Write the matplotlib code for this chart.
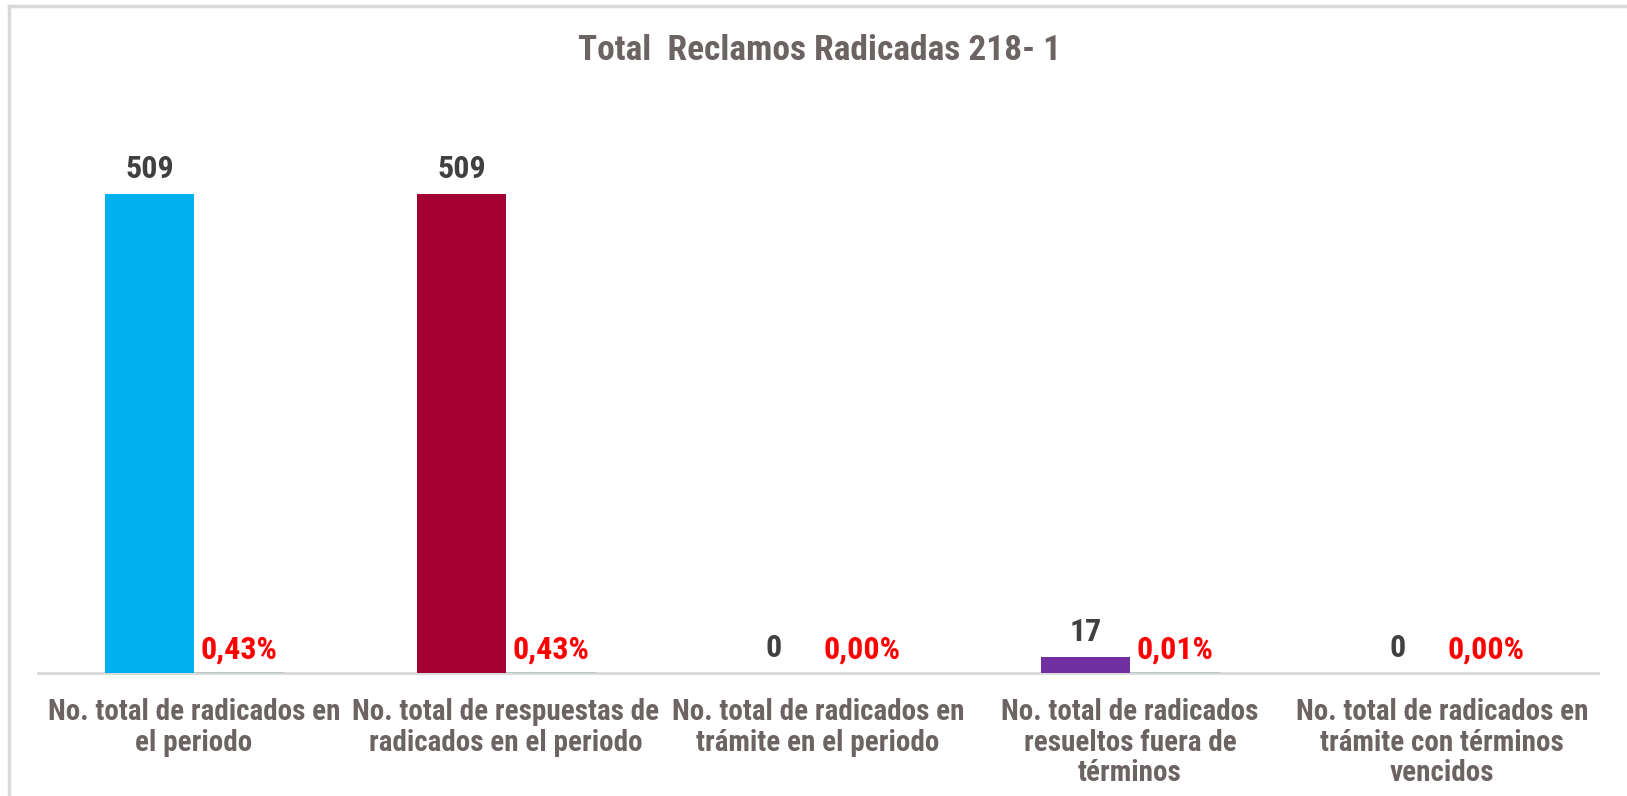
import matplotlib
matplotlib.use("Agg")
import matplotlib.pyplot as plt
import numpy as np
from matplotlib.lines import Line2D

plt.rcParams['font.family'] = ['Roboto Condensed', 'Liberation Sans', 'DejaVu Sans']
plt.rcParams['font.weight'] = 'bold'

## data
categories = ["No. total de radicados en\nel periodo",
              "No. total de respuestas de\nradicados en el periodo",
              "No. total de radicados en\ntrámite en el periodo",
              "No. total de radicados\nresueltos fuera de\ntérminos",
              "No. total de radicados en\ntrámite con términos\nvencidos"]
counts = [509, 509, 0, 17, 0]
percents = [0.43, 0.43, 0.00, 0.01, 0.00]
bar_colors = ["#00b0f0", "#a50034", "#a50034", "#7030a0", "#7030a0"]
pct_color = "#b3c6b7"

W, H = 1627, 796
fig = plt.figure(figsize=(W / 100, H / 100), dpi=100)
ax = fig.add_axes([38 / W, (H - 673) / H, (1598 - 38) / W, 565 / H])

x = np.arange(len(categories))
bw = 0.285
# count bars
ax.bar(x - bw / 2, counts, bw, color=bar_colors, zorder=2)
# percentage bars (same axis, so they sit almost flat on the baseline)
lw = [2 if p > 0 else 0 for p in percents]
ax.bar(x + bw / 2, percents, bw, color=pct_color, edgecolor=pct_color, linewidth=lw, zorder=2)

for xi, c in zip(x, counts):
    ax.annotate(str(c), (xi - bw / 2, c), xytext=(0, 7), textcoords="offset points",
                ha="center", va="bottom", fontsize=23, color="#404040", fontweight="bold")
for xi, p in zip(x, percents):
    ax.annotate(f"{p:.2f}%".replace(".", ","), (xi + bw / 2, p), xytext=(0, 6),
                textcoords="offset points", ha="center", va="bottom",
                fontsize=23, color="#ff0000", fontweight="bold")

ax.set_xlim(-0.5, len(categories) - 0.5)
ax.set_ylim(0, 600)
ax.set_yticks([])
ax.set_xticks(x)
ax.set_xticklabels(categories, fontsize=21, color="#6b6462", linespacing=1.12)
ax.tick_params(axis="x", length=0, pad=18)
for s in ["top", "right", "left"]:
    ax.spines[s].set_visible(False)
ax.spines["bottom"].set_color("#d9d9d9")
ax.spines["bottom"].set_linewidth(2)
ax.spines["bottom"].set_zorder(1)

fig.text(820 / W, 1 - 50 / H, "Total  Reclamos Radicadas 218- 1", ha="center", va="center",
         fontsize=25.5, color="#6b6462", fontweight="bold")

# chart frame (only left and top edge visible in the crop)
fig.add_artist(Line2D([9 / W, 9 / W], [0, 1 - 6 / H], transform=fig.transFigure, color="#d9d9d9", lw=2.5))
fig.add_artist(Line2D([9 / W, 1], [1 - 6 / H, 1 - 6 / H], transform=fig.transFigure, color="#d9d9d9", lw=2.5))

fig.savefig("out.png", dpi=100)
